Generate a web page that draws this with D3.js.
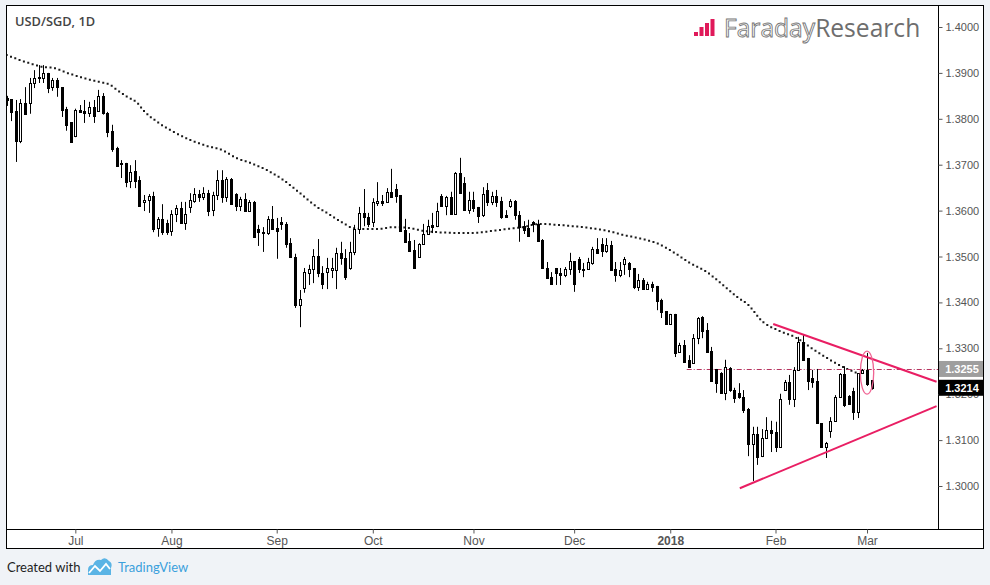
<!DOCTYPE html>
<html><head><meta charset="utf-8">
<script src="https://cdn.jsdelivr.net/npm/d3@7"></script>
<style>body{margin:0;background:#f0f3f7;}svg{display:block}</style>
</head><body><svg id="c" width="990" height="585"></svg>
<script>
const openV=[1.3846,1.3843,1.3817,1.3752,1.3835,1.3835,1.3878,1.3888,1.3889,1.3900,
1.3869,1.3885,1.3869,1.3822,1.3793,1.3763,1.3819,1.3817,1.3813,1.3826,
1.3817,1.3850,1.3813,1.3774,1.3736,1.3704,1.3704,1.3664,1.3686,1.3667,
1.3619,1.3623,1.3632,1.3562,1.3582,1.3573,1.3556,1.3593,1.3606,1.3573,
1.3608,1.3621,1.3636,1.3630,1.3638,1.3601,1.3634,1.3667,1.3630,1.3669,
1.3636,1.3610,1.3625,1.3599,1.3619,1.3560,1.3553,1.3551,1.3582,1.3562,
1.3575,1.3571,1.3529,1.3499,1.3395,1.3431,1.3464,1.3473,1.3501,1.3464,
1.3466,1.3471,1.3471,1.3508,1.3497,1.3475,1.3510,1.3560,1.3595,1.3586,
1.3575,1.3617,1.3621,1.3619,1.3641,1.3647,1.3634,1.3558,1.3534,1.3514,
1.3499,1.3527,1.3549,1.3569,1.3566,1.3632,1.3610,1.3630,1.3593,1.3682,
1.3660,1.3601,1.3623,1.3608,1.3590,1.3645,1.3619,1.3632,1.3621,1.3590,
1.3610,1.3621,1.3590,1.3566,1.3562,1.3575,1.3571,1.3536,1.3475,1.3455,
1.3475,1.3464,1.3460,1.3473,1.3490,1.3495,1.3473,1.3473,1.3486,1.3516,
1.3527,1.3512,1.3525,1.3473,1.3460,1.3484,1.3486,1.3475,1.3434,1.3449,
1.3429,1.3440,1.3436,1.3405,1.3381,1.3353,1.3375,1.3292,1.3307,1.3275,
1.3268,1.3322,1.3368,1.3340,1.3294,1.3255,1.3246,1.3203,1.3257,1.3209,
1.3203,1.3194,1.3168,1.3092,1.3113,1.3065,1.3105,1.3122,1.3118,1.3085,
1.3209,1.3227,1.3190,1.3253,1.3314,1.3279,1.3235,1.3229,1.3137,1.3085,
1.3120,1.3142,1.3194,1.3244,1.3196,1.3207,1.3161,1.3246,1.3253,1.3231];
const highV=[1.3850,1.3843,1.3841,1.3843,1.3869,1.3889,1.3906,1.3917,1.3917,1.3900,
1.3889,1.3889,1.3869,1.3826,1.3793,1.3822,1.3830,1.3841,1.3837,1.3841,
1.3863,1.3856,1.3815,1.3787,1.3739,1.3710,1.3704,1.3699,1.3710,1.3675,
1.3634,1.3636,1.3641,1.3586,1.3614,1.3580,1.3601,1.3612,1.3619,1.3619,
1.3638,1.3649,1.3645,1.3651,1.3645,1.3641,1.3688,1.3688,1.3673,1.3671,
1.3638,1.3630,1.3638,1.3623,1.3621,1.3569,1.3564,1.3588,1.3610,1.3584,
1.3586,1.3575,1.3540,1.3506,1.3427,1.3475,1.3482,1.3516,1.3538,1.3479,
1.3497,1.3497,1.3519,1.3532,1.3516,1.3532,1.3569,1.3608,1.3647,1.3595,
1.3627,1.3662,1.3634,1.3649,1.3691,1.3658,1.3634,1.3582,1.3551,1.3536,
1.3529,1.3571,1.3580,1.3595,1.3617,1.3636,1.3632,1.3641,1.3684,1.3715,
1.3673,1.3641,1.3641,1.3608,1.3651,1.3660,1.3641,1.3645,1.3630,1.3601,
1.3625,1.3623,1.3599,1.3577,1.3580,1.3577,1.3580,1.3538,1.3488,1.3466,
1.3475,1.3475,1.3477,1.3508,1.3490,1.3499,1.3486,1.3497,1.3521,1.3540,
1.3540,1.3540,1.3534,1.3488,1.3488,1.3499,1.3488,1.3475,1.3462,1.3453,
1.3445,1.3445,1.3436,1.3408,1.3381,1.3375,1.3375,1.3312,1.3318,1.3285,
1.3331,1.3368,1.3370,1.3355,1.3303,1.3255,1.3248,1.3275,1.3259,1.3214,
1.3224,1.3209,1.3170,1.3129,1.3129,1.3124,1.3150,1.3142,1.3140,1.3201,
1.3231,1.3242,1.3259,1.3325,1.3329,1.3279,1.3253,1.3255,1.3137,1.3096,
1.3150,1.3198,1.3246,1.3261,1.3198,1.3214,1.3246,1.3255,1.3290,1.3231];
const lowV=[1.3828,1.3795,1.3706,1.3747,1.3811,1.3811,1.3867,1.3878,1.3878,1.3856,
1.3861,1.3848,1.3804,1.3774,1.3750,1.3760,1.3813,1.3791,1.3804,1.3791,
1.3815,1.3809,1.3760,1.3728,1.3695,1.3671,1.3651,1.3649,1.3649,1.3610,
1.3599,1.3595,1.3553,1.3543,1.3547,1.3547,1.3545,1.3575,1.3573,1.3558,
1.3595,1.3617,1.3619,1.3623,1.3588,1.3588,1.3623,1.3617,1.3619,1.3614,
1.3599,1.3599,1.3599,1.3597,1.3543,1.3523,1.3510,1.3547,1.3558,1.3495,
1.3558,1.3519,1.3499,1.3388,1.3346,1.3421,1.3438,1.3442,1.3455,1.3429,
1.3429,1.3453,1.3429,1.3482,1.3449,1.3471,1.3503,1.3549,1.3566,1.3564,
1.3564,1.3610,1.3610,1.3619,1.3630,1.3617,1.3556,1.3532,1.3512,1.3475,
1.3499,1.3527,1.3549,1.3551,1.3564,1.3610,1.3590,1.3593,1.3593,1.3638,
1.3601,1.3593,1.3597,1.3573,1.3586,1.3610,1.3612,1.3608,1.3582,1.3586,
1.3606,1.3580,1.3532,1.3549,1.3545,1.3553,1.3534,1.3475,1.3453,1.3440,
1.3438,1.3438,1.3455,1.3460,1.3423,1.3464,1.3455,1.3471,1.3482,1.3508,
1.3499,1.3508,1.3471,1.3445,1.3455,1.3460,1.3455,1.3429,1.3425,1.3427,
1.3427,1.3423,1.3383,1.3366,1.3353,1.3353,1.3281,1.3290,1.3270,1.3259,
1.3268,1.3309,1.3322,1.3290,1.3229,1.3203,1.3203,1.3187,1.3205,1.3181,
1.3190,1.3159,1.3065,1.3011,1.3046,1.3063,1.3103,1.3074,1.3074,1.3085,
1.3207,1.3177,1.3172,1.3253,1.3275,1.3209,1.3214,1.3137,1.3083,1.3061,
1.3105,1.3140,1.3194,1.3172,1.3177,1.3144,1.3148,1.3244,1.3218,1.3210];
const closeV=[1.3841,1.3815,1.3752,1.3835,1.3811,1.3878,1.3889,1.3890,1.3900,1.3867,
1.3885,1.3869,1.3819,1.3787,1.3750,1.3819,1.3815,1.3813,1.3826,1.3806,
1.3850,1.3813,1.3771,1.3734,1.3697,1.3703,1.3662,1.3684,1.3664,1.3610,
1.3623,1.3632,1.3560,1.3582,1.3553,1.3553,1.3593,1.3606,1.3573,1.3593,
1.3623,1.3636,1.3630,1.3638,1.3599,1.3634,1.3667,1.3630,1.3669,1.3614,
1.3610,1.3625,1.3599,1.3619,1.3543,1.3553,1.3551,1.3582,1.3560,1.3556,
1.3571,1.3527,1.3499,1.3395,1.3408,1.3466,1.3473,1.3501,1.3464,1.3440,
1.3475,1.3475,1.3508,1.3497,1.3455,1.3510,1.3560,1.3595,1.3586,1.3571,
1.3619,1.3621,1.3617,1.3641,1.3630,1.3632,1.3556,1.3532,1.3512,1.3475,
1.3527,1.3549,1.3566,1.3564,1.3599,1.3610,1.3630,1.3593,1.3682,1.3638,
1.3601,1.3623,1.3606,1.3588,1.3636,1.3619,1.3632,1.3619,1.3586,1.3586,
1.3621,1.3590,1.3564,1.3558,1.3545,1.3571,1.3534,1.3475,1.3453,1.3440,
1.3464,1.3460,1.3473,1.3490,1.3440,1.3473,1.3472,1.3488,1.3516,1.3508,
1.3512,1.3525,1.3471,1.3460,1.3471,1.3495,1.3473,1.3434,1.3449,1.3429,
1.3440,1.3434,1.3403,1.3379,1.3353,1.3375,1.3290,1.3307,1.3270,1.3259,
1.3322,1.3366,1.3338,1.3292,1.3229,1.3224,1.3203,1.3259,1.3209,1.3192,
1.3194,1.3166,1.3092,1.3113,1.3063,1.3105,1.3122,1.3116,1.3085,1.3190,
1.3227,1.3190,1.3253,1.3314,1.3275,1.3229,1.3227,1.3137,1.3085,1.3094,
1.3142,1.3194,1.3244,1.3177,1.3179,1.3161,1.3246,1.3253,1.3222,1.3214];

const maIdx=[0,2.9,5.7,7.9,10.1,13.2,16.7,20.4,22.6,24.1,26.3,28.5,29.9,32.8,36.4,40.1,43.7,47.3,50.3,53.2,56.9,60.4,64.1,67.8,70,73.5,75.7,77.9,81,84.5,88.1,91,94,100.8,106.3,109.3,112.8,116.5,120.3,123.8,127.5,131.2,134.7,139,142.1,145.6,149.3,153,156.5,159.6,162,165.3,168.4,172.7,176.2,179.9,182.8,185.8];
const maVal=[1.3939,1.3928,1.3919,1.3913,1.3911,1.3900,1.3889,1.3880,1.3874,1.3863,1.3848,1.3835,1.3818,1.3794,1.3772,1.3754,1.3741,1.3731,1.3714,1.3704,1.3688,1.3667,1.3638,1.3608,1.3595,1.3573,1.3562,1.3560,1.3560,1.3564,1.3562,1.3556,1.3553,1.3551,1.3556,1.3560,1.3564,1.3571,1.3569,1.3566,1.3562,1.3556,1.3547,1.3538,1.3529,1.3510,1.3486,1.3466,1.3438,1.3412,1.3395,1.3357,1.3340,1.3322,1.3298,1.3275,1.3259,1.3246];

const monthLabels=["Jul","Aug","Sep","Oct","Nov","Dec","2018","Feb","Mar"];
const monthIdx=[15,36,59,80,102,124,145,168,188];
const yTicks=[1.30,1.31,1.32,1.33,1.34,1.35,1.36,1.37,1.38,1.39,1.40];
const levelPrice=1.3255, levelStartIdx=148.6;
const lastPrice=1.3214;
const upperIdx=[167.5,203.2], upperVal=[1.3353,1.3227];
const lowerIdx=[160.2,203.2], lowerVal=[1.2995,1.3174];
const ellIdx=188.0, ellVal=1.3247, ellRIdx=1.46, ellRVal=0.0047;

const svg=d3.select("#c");
const L=7,T=6,R=938,B=529;
const x=d3.scaleLinear().domain([0,189]).range([6.7,871.6]);
const y=d3.scaleLinear().domain([1.30,1.40]).range([486,27]);

svg.append("rect").attr("x",6.5).attr("y",5.5).attr("width",977).attr("height",543).attr("fill","#fff").attr("stroke","#000").attr("stroke-width",1);
svg.append("defs").append("clipPath").attr("id","clip").append("rect").attr("x",L).attr("y",T).attr("width",R-L).attr("height",B-T);
const plot=svg.append("g").attr("clip-path","url(#clip)");

// moving average (dotted)
const maData=maIdx.map((d,i)=>[d,maVal[i]]);
plot.append("path").datum(maData)
 .attr("d",d3.line().x(d=>x(d[0])).y(d=>y(d[1])).curve(d3.curveMonotoneX))
 .attr("fill","none").attr("stroke","#1a1a1a").attr("stroke-width",2)
 .attr("stroke-linecap","square").attr("stroke-dasharray","0 4.58");

// horizontal level
plot.append("line").attr("x1",x(levelStartIdx)).attr("x2",R).attr("y1",Math.round(y(levelPrice))+0.5).attr("y2",Math.round(y(levelPrice))+0.5)
 .attr("stroke","#b5335f").attr("stroke-width",1).attr("stroke-dasharray","5 2 1 2");

// candles
const idx=d3.range(openV.length);
const cg=plot.append("g");
idx.forEach(i=>{
  const c=Math.round(x(i));
  cg.append("line").attr("x1",c+0.5).attr("x2",c+0.5).attr("y1",y(highV[i])).attr("y2",y(lowV[i])).attr("stroke","#000").attr("stroke-width",1);
  const up=closeV[i]>=openV[i];
  const top=Math.round(y(Math.max(openV[i],closeV[i])));
  const bot=Math.round(y(Math.min(openV[i],closeV[i])));
  cg.append("rect").attr("x",c-0.5).attr("y",top+0.5).attr("width",2).attr("height",Math.max(bot-top,1))
    .attr("fill",up?"#fff":"#000").attr("stroke","#000").attr("stroke-width",1);
});

// trendlines + ellipse
const tl=d3.line().x(d=>x(d[0])).y(d=>y(d[1]));
plot.append("path").datum(upperIdx.map((d,i)=>[d,upperVal[i]])).attr("d",tl).attr("stroke","#e91e63").attr("stroke-width",2).attr("fill","none");
plot.append("path").datum(lowerIdx.map((d,i)=>[d,lowerVal[i]])).attr("d",tl).attr("stroke","#e91e63").attr("stroke-width",2).attr("fill","none");
plot.append("ellipse").attr("cx",x(ellIdx)).attr("cy",y(ellVal)).attr("rx",x(ellIdx+ellRIdx)-x(ellIdx)).attr("ry",y(ellVal-ellRVal)-y(ellVal))
 .attr("fill","none").attr("stroke","#f06292").attr("stroke-width",1.3);

// axis lines
svg.append("line").attr("x1",R+0.5).attr("x2",R+0.5).attr("y1",T).attr("y2",B).attr("stroke","#000");
svg.append("line").attr("x1",L).attr("x2",983).attr("y1",B+0.5).attr("y2",B+0.5).attr("stroke","#000");

const ya=svg.append("g").attr("transform",`translate(${R+0.5},0)`)
 .call(d3.axisRight(y).tickValues(yTicks).tickSize(4).tickPadding(3).tickFormat(d3.format(".4f")));
ya.select(".domain").remove();
ya.selectAll("text").attr("font-family","Liberation Sans, Arial, sans-serif").attr("font-size",11).attr("fill","#555");
ya.selectAll("line").attr("stroke","#555");

const xa=svg.append("g").attr("transform",`translate(0,${B+0.5})`)
 .call(d3.axisBottom(x).tickValues(monthIdx).tickSize(4).tickPadding(3).tickFormat((d,i)=>monthLabels[i]));
xa.select(".domain").remove();
xa.selectAll("text").attr("font-family","Liberation Sans Narrow, Liberation Sans, Arial, sans-serif").attr("font-size",12).attr("fill","#555")
 .attr("font-weight",(d,i)=>monthLabels[i]==="2018"?"bold":"normal");
xa.selectAll("line").attr("stroke","#555");

// price labels on the axis
function priceBox(v,bg){
  const yy=y(v);
  svg.append("rect").attr("x",R+1).attr("y",yy-8).attr("width",983-R-1).attr("height",16).attr("fill",bg);
  svg.append("text").attr("x",962).attr("y",yy+4).attr("text-anchor","middle").attr("font-family","Liberation Sans, Arial, sans-serif")
   .attr("font-size",11).attr("font-weight","bold").attr("fill","#fff").text(d3.format(".4f")(v));
}
priceBox(levelPrice,"#9e9e9e");
priceBox(lastPrice,"#000");

// title
svg.append("text").attr("x",15).attr("y",26).attr("font-family","Open Sans, sans-serif").attr("font-size",12.8).attr("font-weight",600).attr("fill","#444").text("USD/SGD, 1D");

// logo
const lg=svg.append("g");
[[694,4],[699.5,9],[705,13],[710.5,17]].forEach(b=>lg.append("rect").attr("x",b[0]).attr("y",36-b[1]).attr("width",4).attr("height",b[1]).attr("fill","#e0195a"));
const lt=lg.append("text").attr("x",724).attr("y",37).attr("font-family","Open Sans, sans-serif").attr("font-size",24.6);
lt.append("tspan").text("Faraday").attr("fill","#fff").attr("stroke","#777").attr("stroke-width",0.9);
lt.append("tspan").text("Research").attr("fill","#6e6e6e");

// footer
svg.append("text").attr("x",7).attr("y",572).attr("font-family","Lato, sans-serif").attr("font-size",13).attr("fill","#1e1e1e").text("Created with");
svg.append("path").attr("d","M88,575 L88,570 Q88,565 93,565 Q95,559 101,560 Q105,556 109,561 Q113,563 111,568 L111,575 Z").attr("fill","#5ab4e5");
svg.append("path").attr("d","M89,573 L95,566 L100,571 L106,564 L110,569").attr("fill","none").attr("stroke","#fff").attr("stroke-width",1.8);
svg.append("text").attr("x",118).attr("y",572).attr("font-family","Lato, sans-serif").attr("font-size",13).attr("fill","#3ba0dc").text("TradingView");
</script></body></html>
